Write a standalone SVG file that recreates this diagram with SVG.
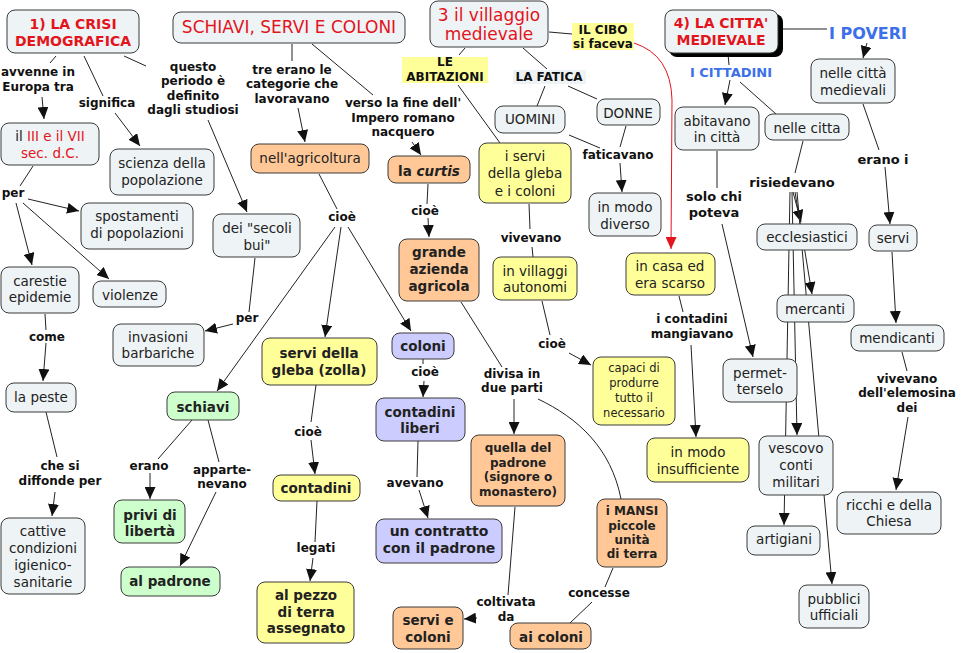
<svg xmlns="http://www.w3.org/2000/svg" width="965" height="653" viewBox="0 0 965 653">
<style>
.n{stroke:#3a3a3a;stroke-width:1}
.g{fill:#eef3f5}.o{fill:#ffc896}.y{fill:#ffff99}.gr{fill:#ccffcc}.l{fill:#ccccff}
text{font-family:"DejaVu Sans",Verdana,sans-serif}
.t{font-size:13.5px;fill:#222;text-anchor:middle}
.b{font-weight:bold}
.s{font-size:12px}
.r{fill:#e3141c}
.lb{font-size:12px;font-weight:bold;fill:#111;text-anchor:middle}
.bl{fill:#3d6fe8;font-weight:bold;text-anchor:middle}
.c{stroke:#222;stroke-width:1;fill:none}
.a{marker-end:url(#ah)}
</style>
<defs>
<marker id="ah" markerUnits="userSpaceOnUse" markerWidth="12" markerHeight="11" refX="12" refY="5.5" orient="auto"><path d="M0,0 L12,5.5 L0,11 z" fill="#111"/></marker>
<marker id="ahr" markerUnits="userSpaceOnUse" markerWidth="12" markerHeight="11" refX="12" refY="5.5" orient="auto"><path d="M0,0 L12,5.5 L0,11 z" fill="#e3141c"/></marker>
</defs>
<rect width="965" height="653" fill="#fff"/>

<g id="connectors">
<line class="c" x1="56" y1="56" x2="50" y2="63"/>
<line class="c a" x1="42" y1="97" x2="44" y2="119"/>
<line class="c" x1="84" y1="56" x2="103" y2="96"/>
<line class="c a" x1="115" y1="113" x2="140" y2="146"/>
<line class="c" x1="124" y1="56" x2="146" y2="66"/>
<line class="c a" x1="208" y1="120" x2="247" y2="212"/>
<line class="c" x1="292" y1="44" x2="292" y2="61"/>
<line class="c a" x1="298" y1="108" x2="305" y2="142"/>
<line class="c" x1="312" y1="44" x2="373" y2="95"/>
<line class="c a" x1="412" y1="142" x2="421" y2="155"/>
<line class="c" x1="465" y1="48" x2="459" y2="55"/>
<line class="c" x1="458" y1="85" x2="500" y2="143"/>
<line class="c" x1="523" y1="48" x2="547" y2="69"/>
<line class="c" x1="545" y1="86" x2="537" y2="106"/>
<line class="c" x1="568" y1="86" x2="597" y2="99"/>
<line class="c" x1="549" y1="32" x2="572" y2="34"/>
<path d="M634,43 Q671,55 672,100 L671,249" stroke="#e3141c" stroke-width="1" fill="none" marker-end="url(#ahr)"/>
<line class="c" x1="569" y1="135" x2="600" y2="148"/>
<line class="c" x1="626" y1="126" x2="620" y2="147"/>
<line class="c a" x1="620" y1="163" x2="622" y2="192"/>
<line class="c" x1="728" y1="54" x2="729" y2="65"/>
<line class="c a" x1="730" y1="80" x2="725" y2="105"/>
<line class="c" x1="740" y1="82" x2="776" y2="114"/>
<line class="c" x1="779" y1="29" x2="827" y2="29"/>
<line class="c a" x1="867" y1="43" x2="863" y2="58"/>
<line class="c" x1="717" y1="151" x2="717" y2="188"/>
<line class="c a" x1="722" y1="224" x2="753" y2="357"/>
<line class="c" x1="803" y1="141" x2="795" y2="173"/>
<line class="c a" x1="793" y1="192" x2="801" y2="222"/>
<line class="c a" x1="795" y1="192" x2="812" y2="294"/>
<line class="c a" x1="792" y1="192" x2="797" y2="435"/>
<line class="c a" x1="790" y1="192" x2="784" y2="525"/>
<line class="c a" x1="797" y1="192" x2="832" y2="584"/>
<line class="c" x1="679" y1="296" x2="683" y2="312"/>
<line class="c a" x1="691" y1="345" x2="696" y2="437"/>
<line class="c" x1="863" y1="104" x2="879" y2="150"/>
<line class="c a" x1="885" y1="167" x2="890" y2="224"/>
<line class="c a" x1="892" y1="252" x2="896" y2="323"/>
<line class="c" x1="902" y1="352" x2="907" y2="371"/>
<line class="c a" x1="908" y1="417" x2="896" y2="490"/>
<line class="c" x1="33" y1="166" x2="20" y2="186"/>
<line class="c a" x1="28" y1="199" x2="79" y2="211"/>
<line class="c a" x1="16" y1="203" x2="32" y2="265"/>
<line class="c a" x1="23" y1="203" x2="109" y2="279"/>
<line class="c" x1="45" y1="314" x2="46" y2="330"/>
<line class="c a" x1="46" y1="343" x2="43" y2="381"/>
<line class="c" x1="46" y1="412" x2="57" y2="457"/>
<line class="c a" x1="55" y1="492" x2="52" y2="516"/>
<line class="c" x1="255" y1="258" x2="249" y2="312"/>
<line class="c a" x1="233" y1="324" x2="205" y2="331"/>
<line class="c" x1="319" y1="174" x2="337" y2="209"/>
<line class="c a" x1="335" y1="227" x2="217" y2="391"/>
<line class="c a" x1="341" y1="227" x2="325" y2="337"/>
<line class="c a" x1="348" y1="227" x2="411" y2="331"/>
<line class="c" x1="428" y1="184" x2="427" y2="204"/>
<line class="c a" x1="428" y1="218" x2="429" y2="237"/>
<line class="c" x1="529" y1="204" x2="530" y2="229"/>
<line class="c" x1="532" y1="247" x2="533" y2="257"/>
<line class="c" x1="542" y1="301" x2="550" y2="335"/>
<line class="c a" x1="569" y1="353" x2="591" y2="365"/>
<line class="c" x1="461" y1="302" x2="502" y2="367"/>
<line class="c a" x1="514" y1="399" x2="514" y2="434"/>
<path class="c" d="M538,399 C578,418 611,448 621,499"/>
<line class="c" x1="515" y1="507" x2="508" y2="595"/>
<line class="c a" x1="477" y1="618" x2="464" y2="619"/>
<line class="c" x1="613" y1="568" x2="605" y2="587"/>
<line class="c" x1="592" y1="602" x2="570" y2="623"/>
<line class="c" x1="192" y1="420" x2="158" y2="459"/>
<line class="c a" x1="150" y1="473" x2="150" y2="499"/>
<line class="c" x1="208" y1="420" x2="219" y2="462"/>
<line class="c a" x1="216" y1="492" x2="180" y2="566"/>
<line class="c" x1="316" y1="385" x2="311" y2="422"/>
<line class="c a" x1="311" y1="440" x2="315" y2="474"/>
<line class="c" x1="317" y1="501" x2="315" y2="542"/>
<line class="c a" x1="313" y1="558" x2="310" y2="581"/>
<line class="c" x1="423" y1="359" x2="423" y2="364"/>
<line class="c a" x1="424" y1="381" x2="423" y2="397"/>
<line class="c" x1="418" y1="441" x2="417" y2="477"/>
<line class="c a" x1="419" y1="490" x2="428" y2="518"/>
</g>

<g id="labels">
<text class="lb"><tspan x="38" y="76">avvenne in</tspan><tspan x="38" y="91">Europa tra</tspan></text>
<text class="lb" x="107" y="107">significa</text>
<text class="lb"><tspan x="193" y="71">questo</tspan><tspan x="193" y="85">periodo è</tspan><tspan x="193" y="100">definito</tspan><tspan x="193" y="114">dagli studiosi</tspan></text>
<text class="lb"><tspan x="292" y="74">tre erano le</tspan><tspan x="292" y="88">categorie che</tspan><tspan x="292" y="103">lavoravano</tspan></text>
<text class="lb"><tspan x="403" y="107">verso la fine dell'</tspan><tspan x="403" y="122">Impero romano</tspan><tspan x="403" y="136">nacquero</tspan></text>
<rect x="402" y="57" width="86" height="26" fill="#ffff99"/>
<text class="lb"><tspan x="445" y="66">LE</tspan><tspan x="445" y="81">ABITAZIONI</tspan></text>
<rect x="572" y="23" width="62" height="27" fill="#ffff99"/>
<text class="lb"><tspan x="603" y="34">IL CIBO</tspan><tspan x="603" y="48">si faceva</tspan></text>
<rect x="513" y="70" width="73" height="14" fill="#eef3f5"/>
<text class="lb" x="549" y="81">LA FATICA</text>
<text class="lb" x="618" y="159">faticavano</text>
<text class="lb" x="13" y="197">per</text>
<text class="lb" x="342" y="221">cioè</text>
<text class="lb" x="425" y="215">cioè</text>
<text class="lb" x="531" y="242">vivevano</text>
<text class="lb" x="247" y="322">per</text>
<text class="lb" x="47" y="341">come</text>
<text class="lb"><tspan x="692" y="323">i contadini</tspan><tspan x="692" y="338">mangiavano</tspan></text>
<text class="lb" x="552" y="348">cioè</text>
<text class="lb"><tspan x="512" y="378">divisa in</tspan><tspan x="512" y="392">due parti</tspan></text>
<text class="lb" x="425" y="376">cioè</text>
<text class="lb" x="308" y="436">cioè</text>
<text class="lb" style="font-size:13px"><tspan x="714" y="201">solo chi</tspan><tspan x="714" y="217">poteva</tspan></text>
<text class="lb" style="font-size:13px" x="792" y="187">risiedevano</text>
<text class="lb" style="font-size:13px" x="883" y="164">erano i</text>
<text class="lb"><tspan x="907" y="383">vivevano</tspan><tspan x="907" y="397">dell'elemosina</tspan><tspan x="907" y="412">dei</tspan></text>
<text class="lb"><tspan x="60" y="470">che si</tspan><tspan x="60" y="485">diffonde per</tspan></text>
<text class="lb" x="149" y="470">erano</text>
<text class="lb"><tspan x="222" y="474">apparte-</tspan><tspan x="222" y="488">nevano</tspan></text>
<text class="lb" x="415" y="487">avevano</text>
<text class="lb" x="316" y="552">legati</text>
<text class="lb"><tspan x="506" y="606">coltivata</tspan><tspan x="506" y="621">da</tspan></text>
<text class="lb" x="599" y="597">concesse</text>
<text class="bl" style="font-size:16px" x="868" y="39">I POVERI</text>
<text class="bl" style="font-size:13px" x="731" y="77">I CITTADINI</text>
</g>

<g id="n-crisi"><rect class="n g" x="7" y="10" width="132" height="43" rx="8"/><text class="t b r" style="font-size:14px"><tspan x="73" y="29">1) LA CRISI</tspan><tspan x="73" y="46">DEMOGRAFICA</tspan></text></g>
<g id="n-schiavi-title"><rect class="n g" x="173" y="12" width="232" height="31" rx="8"/><text class="t r" style="font-size:17px" x="289" y="33">SCHIAVI, SERVI E COLONI</text></g>
<g id="n-villaggio"><rect class="n g" x="430" y="1" width="118" height="46" rx="8"/><text class="t r" style="font-size:17px"><tspan x="489" y="21">3 il villaggio</tspan><tspan x="489" y="40">medievale</tspan></text></g>
<g id="n-citta"><rect x="669" y="14" width="114" height="43" rx="8" fill="#000"/><rect class="n g" x="665" y="10" width="113" height="43" rx="8"/><text class="t b r" style="font-size:14px"><tspan x="721" y="28">4) LA CITTA'</tspan><tspan x="721" y="45">MEDIEVALE</tspan></text></g>
<g id="n-cittamed"><rect class="n g" x="811" y="59" width="84" height="44" rx="8"/><text class="t"><tspan x="853" y="78">nelle città</tspan><tspan x="853" y="95">medievali</tspan></text></g>
<g id="n-abitavano"><rect class="n g" x="675" y="107" width="84" height="43" rx="8"/><text class="t"><tspan x="717" y="126">abitavano</tspan><tspan x="717" y="142">in città</tspan></text></g>
<g id="n-nellecitta"><rect class="n g" x="765" y="114" width="84" height="26" rx="8"/><text class="t" x="807" y="133">nelle citta</text></g>
<g id="n-secolo"><rect class="n g" x="1" y="123" width="98" height="42" rx="8"/><text class="t"><tspan x="50" y="141">il <tspan class="r">III e il VII</tspan></tspan><tspan class="r" x="50" y="158">sec. d.C.</tspan></text></g>
<g id="n-scienza"><rect class="n g" x="110" y="149" width="104" height="46" rx="8"/><text class="t"><tspan x="162" y="168">scienza della</tspan><tspan x="162" y="185">popolazione</tspan></text></g>
<g id="n-agricoltura"><rect class="n o" x="251" y="144" width="118" height="29" rx="8"/><text class="t" x="310" y="163">nell'agricoltura</text></g>
<g id="n-curtis"><rect class="n o" x="388" y="156" width="82" height="27" rx="8"/><text class="t b" x="429" y="176">la <tspan font-style="italic">curtis</tspan></text></g>
<g id="n-uomini"><rect class="n g" x="495" y="106" width="70" height="27" rx="8"/><text class="t" x="530" y="124">UOMINI</text></g>
<g id="n-donne"><rect class="n g" x="597" y="99" width="63" height="26" rx="8"/><text class="t" x="628" y="118">DONNE</text></g>
<g id="n-servigleba-col"><rect class="n y" x="479" y="143" width="92" height="60" rx="8"/><text class="t"><tspan x="525" y="161">i servi</tspan><tspan x="525" y="178">della gleba</tspan><tspan x="525" y="196">e i coloni</tspan></text></g>
<g id="n-diverso"><rect class="n g" x="589" y="193" width="72" height="43" rx="8"/><text class="t"><tspan x="625" y="212">in modo</tspan><tspan x="625" y="229">diverso</tspan></text></g>
<g id="n-spostamenti"><rect class="n g" x="81" y="203" width="112" height="46" rx="8"/><text class="t"><tspan x="137" y="221">spostamenti</tspan><tspan x="137" y="238">di popolazioni</tspan></text></g>
<g id="n-secolibui"><rect class="n g" x="213" y="214" width="87" height="43" rx="8"/><text class="t"><tspan x="257" y="233">dei "secoli</tspan><tspan x="257" y="250">bui"</tspan></text></g>
<g id="n-azienda"><rect class="n o" x="399" y="239" width="80" height="62" rx="8"/><text class="t b"><tspan x="439" y="257">grande</tspan><tspan x="439" y="274">azienda</tspan><tspan x="439" y="291">agricola</tspan></text></g>
<g id="n-villaggi"><rect class="n y" x="493" y="257" width="84" height="43" rx="8"/><text class="t"><tspan x="535" y="276">in villaggi</tspan><tspan x="535" y="292">autonomi</tspan></text></g>
<g id="n-casa"><rect class="n y" x="626" y="253" width="89" height="42" rx="8"/><text class="t"><tspan x="670" y="271">in casa ed</tspan><tspan x="670" y="288">era scarso</tspan></text></g>
<g id="n-carestie"><rect class="n g" x="1" y="267" width="78" height="46" rx="8"/><text class="t"><tspan x="40" y="286">carestie</tspan><tspan x="40" y="302">epidemie</tspan></text></g>
<g id="n-violenze"><rect class="n g" x="93" y="281" width="73" height="26" rx="8"/><text class="t" x="130" y="300">violenze</text></g>
<g id="n-invasioni"><rect class="n g" x="113" y="324" width="91" height="42" rx="8"/><text class="t"><tspan x="158" y="342">invasioni</tspan><tspan x="158" y="358">barbariche</tspan></text></g>
<g id="n-servigleba"><rect class="n y" x="262" y="338" width="115" height="47" rx="8"/><text class="t b"><tspan x="319" y="358">servi della</tspan><tspan x="319" y="375">gleba (zolla)</tspan></text></g>
<g id="n-coloni"><rect class="n l" x="392" y="333" width="62" height="26" rx="8"/><text class="t b" x="423" y="351">coloni</text></g>
<g id="n-capaci"><rect class="n y" x="593" y="357" width="82" height="68" rx="8"/><text class="t" style="font-size:11.5px"><tspan x="634" y="372">capaci di</tspan><tspan x="634" y="387">produrre</tspan><tspan x="634" y="402">tutto il</tspan><tspan x="634" y="417">necessario</tspan></text></g>
<g id="n-permet"><rect class="n g" x="723" y="359" width="74" height="43" rx="8"/><text class="t"><tspan x="760" y="378">permet-</tspan><tspan x="760" y="394">terselo</tspan></text></g>
<g id="n-peste"><rect class="n g" x="6" y="383" width="70" height="29" rx="8"/><text class="t" x="41" y="402">la peste</text></g>
<g id="n-schiavi"><rect class="n gr" x="167" y="392" width="72" height="28" rx="8"/><text class="t b" x="203" y="412">schiavi</text></g>
<g id="n-contliberi"><rect class="n l" x="376" y="398" width="89" height="43" rx="8"/><text class="t b"><tspan x="420" y="417">contadini</tspan><tspan x="420" y="433">liberi</tspan></text></g>
<g id="n-insuff"><rect class="n y" x="647" y="438" width="102" height="44" rx="8"/><text class="t"><tspan x="698" y="457">in modo</tspan><tspan x="698" y="474">insufficiente</tspan></text></g>
<g id="n-vescovo"><rect class="n g" x="759" y="436" width="74" height="59" rx="8"/><text class="t"><tspan x="796" y="453">vescovo</tspan><tspan x="796" y="470">conti</tspan><tspan x="796" y="487">militari</tspan></text></g>
<g id="n-ricchi"><rect class="n g" x="837" y="492" width="104" height="42" rx="8"/><text class="t"><tspan x="889" y="510">ricchi e della</tspan><tspan x="889" y="526">Chiesa</tspan></text></g>
<g id="n-quella"><rect class="n o" x="471" y="435" width="94" height="71" rx="8"/><text class="t b s"><tspan x="518" y="452">quella del</tspan><tspan x="518" y="467">padrone</tspan><tspan x="518" y="481">(signore o</tspan><tspan x="518" y="496">monastero)</tspan></text></g>
<g id="n-contadini"><rect class="n y" x="273" y="475" width="87" height="26" rx="8"/><text class="t b" x="316" y="493">contadini</text></g>
<g id="n-privi"><rect class="n gr" x="114" y="500" width="71" height="43" rx="8"/><text class="t b"><tspan x="150" y="520">privi di</tspan><tspan x="150" y="536">libertà</tspan></text></g>
<g id="n-cattive"><rect class="n g" x="1" y="518" width="84" height="76" rx="8"/><text class="t"><tspan x="43" y="536">cattive</tspan><tspan x="43" y="553">condizioni</tspan><tspan x="43" y="570">igienico-</tspan><tspan x="43" y="587">sanitarie</tspan></text></g>
<g id="n-mansi"><rect class="n o" x="597" y="499" width="70" height="68" rx="8"/><text class="t b s"><tspan x="632" y="515">i MANSI</tspan><tspan x="632" y="530">piccole</tspan><tspan x="632" y="544">unità</tspan><tspan x="632" y="558">di terra</tspan></text></g>
<g id="n-contratto"><rect class="n l" x="376" y="519" width="126" height="44" rx="8"/><text class="t b" style="font-size:14px"><tspan x="439" y="536">un contratto</tspan><tspan x="439" y="553">con il padrone</tspan></text></g>
<g id="n-artigiani"><rect class="n g" x="747" y="526" width="73" height="29" rx="8"/><text class="t" x="784" y="544">artigiani</text></g>
<g id="n-alpadrone"><rect class="n gr" x="121" y="567" width="99" height="29" rx="8"/><text class="t b" x="170" y="586">al padrone</text></g>
<g id="n-pezzo"><rect class="n y" x="257" y="582" width="97" height="61" rx="8"/><text class="t b"><tspan x="306" y="600">al pezzo</tspan><tspan x="306" y="617">di terra</tspan><tspan x="306" y="633">assegnato</tspan></text></g>
<g id="n-pubblici"><rect class="n g" x="799" y="585" width="70" height="43" rx="8"/><text class="t"><tspan x="834" y="604">pubblici</tspan><tspan x="834" y="620">ufficiali</tspan></text></g>
<g id="n-servicoloni"><rect class="n o" x="393" y="607" width="70" height="42" rx="8"/><text class="t b"><tspan x="428" y="625">servi e</tspan><tspan x="428" y="642">coloni</tspan></text></g>
<g id="n-aicoloni"><rect class="n o" x="510" y="623" width="81" height="26" rx="8"/><text class="t b" x="551" y="642">ai coloni</text></g>
<g id="n-mercanti"><rect class="n g" x="777" y="295" width="77" height="27" rx="8"/><text class="t" x="815" y="314">mercanti</text></g>
<g id="n-ecclesiastici"><rect class="n g" x="757" y="224" width="100" height="26" rx="8"/><text class="t" x="807" y="242">ecclesiastici</text></g>
<g id="n-servi"><rect class="n g" x="869" y="225" width="48" height="26" rx="8"/><text class="t" x="893" y="243">servi</text></g>
<g id="n-mendicanti"><rect class="n g" x="851" y="325" width="93" height="26" rx="8"/><text class="t" x="897" y="343">mendicanti</text></g>
</svg>
